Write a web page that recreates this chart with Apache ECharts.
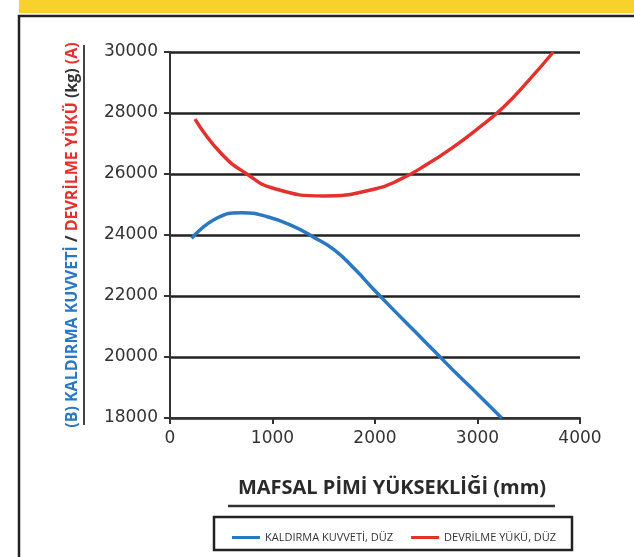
<!DOCTYPE html>
<html>
<head>
<meta charset="utf-8">
<script src="https://cdn.jsdelivr.net/npm/echarts@6/dist/echarts.min.js"></script>
<style>
  html, body { margin: 0; padding: 0; background: #fff; }
  #chart { width: 634px; height: 557px; }
</style>
</head>
<body>
<div id="chart"></div>
<script>
// lift capacity (blue) and tipping load (red), x = hinge pin height in mm
const kaldirmaX = [211, 450, 700, 950, 1200, 1400, 1600, 1800, 2000, 2200, 2400, 2600, 2800, 3000, 3236];
const kaldirmaY = [23890, 24540, 24730, 24600, 24290, 23930, 23520, 22890, 22170, 21480, 20800, 20120, 19440, 18790, 18000];
const devrilmeX = [244, 500, 750, 1000, 1500, 2000, 2250, 2500, 2750, 3000, 3250, 3500, 3740];
const devrilmeY = [27800, 26670, 26000, 25540, 25280, 25510, 25830, 26300, 26850, 27480, 28180, 29070, 30000];
const xTicks = [0, 1000, 2000, 3000, 4000];
const yTicks = [18000, 20000, 22000, 24000, 26000, 28000, 30000];

const pairs = (xs, ys) => xs.map((x, i) => [x, ys[i]]);
const plain = (v) => String(v);

const myChart = echarts.init(document.getElementById("chart"));
myChart.setOption({
  animation: false,
  grid: { left: 170, right: 54, top: 52, bottom: 139 },
  xAxis: {
    type: "value",
    min: xTicks[0],
    max: xTicks[xTicks.length - 1],
    interval: 1000,
    axisLine: { lineStyle: { color: "#333", width: 2 } },
    axisTick: { show: true, length: 6, lineStyle: { color: "#333", width: 2 } },
    axisLabel: { margin: 12, color: "#333", fontSize: 17, fontFamily: "DejaVu Sans", formatter: plain },
    splitLine: { show: false },
    name: "MAFSAL PİMİ YÜKSEKLİĞİ (mm)",
    nameLocation: "middle",
    nameGap: 60,
    nameTextStyle: { color: "#2a2a2a", fontSize: 20, fontWeight: "bold", fontFamily: "Open Sans", padding: [0, 0, 0, 34] },
  },
  yAxis: {
    type: "value",
    min: yTicks[0],
    max: yTicks[yTicks.length - 1],
    interval: 2000,
    axisLine: { show: true, lineStyle: { color: "#333", width: 2 } },
    axisTick: { show: true, length: 6, lineStyle: { color: "#333", width: 2 } },
    axisLabel: { margin: 12, color: "#333", fontSize: 17, fontFamily: "DejaVu Sans", formatter: plain },
    splitLine: { show: true, lineStyle: { color: "#222", width: 2.5 } },
    name: "{b|(B) KALDIRMA KUVVETİ}{k| / }{r|DEVRİLME YÜKÜ}{k| (kg) }{r|(A)}",
    nameLocation: "middle",
    nameRotate: 90,
    nameGap: 90,
    nameTextStyle: {
      fontSize: 16,
      fontWeight: "bold",
      fontFamily: "Open Sans",
      rich: {
        b: { color: "#2b78c2", fontSize: 16, fontWeight: "bold", fontFamily: "Open Sans" },
        r: { color: "#e3322d", fontSize: 16, fontWeight: "bold", fontFamily: "Open Sans" },
        k: { color: "#333", fontSize: 16, fontWeight: "bold", fontFamily: "Open Sans" },
      },
    },
  },
  legend: {
    left: 227,
    top: 527,
    itemWidth: 28,
    itemHeight: 3,
    itemGap: 18,
    icon: "rect",
    textStyle: { fontSize: 11, color: "#333", fontFamily: "Open Sans" },
    data: ["KALDIRMA KUVVETİ, DÜZ", "DEVRİLME YÜKÜ, DÜZ"],
  },
  graphic: [
    { type: "rect", shape: { x: 0, y: 0, width: 634, height: 13 }, left: 19, top: 0, style: { fill: "#f8d12c" }, silent: true },
    { type: "rect", shape: { x: 19, y: 16, width: 660, height: 600 }, style: { fill: "none", stroke: "#222", lineWidth: 2.5 }, silent: true },
    { type: "line", shape: { x1: 84, y1: 45, x2: 84, y2: 425 }, style: { stroke: "#444", lineWidth: 2 }, silent: true },
    { type: "line", shape: { x1: 228, y1: 506, x2: 555, y2: 506 }, style: { stroke: "#333", lineWidth: 2.5 }, silent: true },
    { type: "rect", shape: { x: 214, y: 517, width: 358, height: 33 }, style: { fill: "none", stroke: "#222", lineWidth: 2.5 }, silent: true },
  ],
  series: [
    {
      name: "KALDIRMA KUVVETİ, DÜZ",
      type: "line",
      smooth: 0.5,
      showSymbol: false,
      data: pairs(kaldirmaX, kaldirmaY),
      lineStyle: { width: 3.5, color: "#2b78c2" },
      itemStyle: { color: "#2b78c2" },
    },
    {
      name: "DEVRİLME YÜKÜ, DÜZ",
      type: "line",
      smooth: 0.5,
      showSymbol: false,
      data: pairs(devrilmeX, devrilmeY),
      lineStyle: { width: 3.5, color: "#e3322d" },
      itemStyle: { color: "#e3322d" },
    },
  ],
});
</script>
</body>
</html>
